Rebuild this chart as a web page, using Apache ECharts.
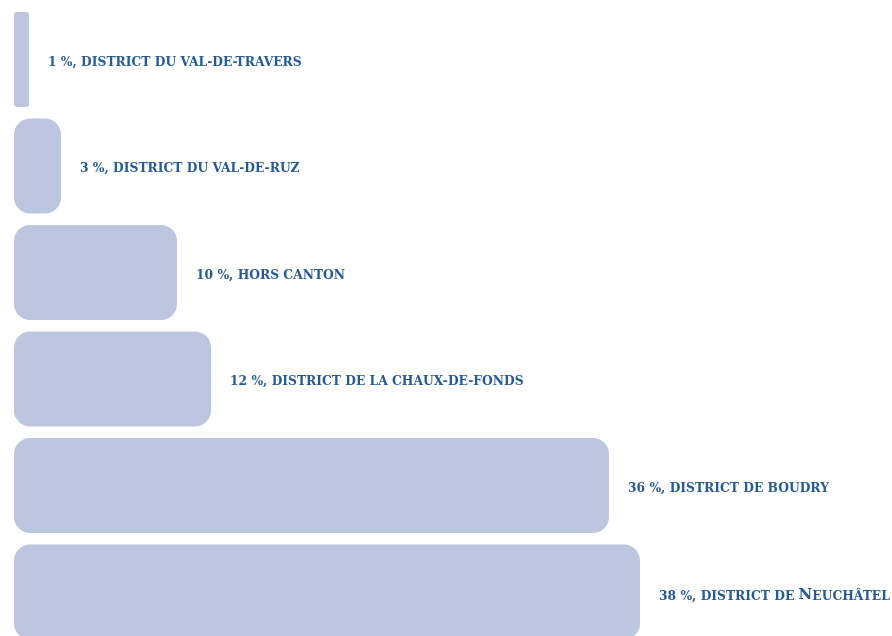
<!DOCTYPE html>
<html>
<head>
<meta charset="utf-8">
<script src="https://cdn.jsdelivr.net/npm/echarts@6/dist/echarts.min.js"></script>
<style>
html,body{margin:0;padding:0;background:#fff;overflow:hidden;}
#c{width:892px;height:660px;}
</style>
</head>
<body>
<div id="c"></div>
<script>
const categories = ['Val-de-Travers', 'Val-de-Ruz', 'Hors canton', 'La Chaux-de-Fonds', 'Boudry', 'Neuchâtel'];
const values = [0.91, 2.85, 9.88, 11.94, 36.06, 37.94];
const labelTexts = [
  '{s|1 %, DISTRICT DU VAL-DE-TRAVERS}',
  '{s|3 %, DISTRICT DU VAL-DE-RUZ}',
  '{s|10 %, HORS CANTON}',
  '{s|12 %, DISTRICT DE LA CHAUX-DE-FONDS}',
  '{s|36 %, DISTRICT DE BOUDRY}',
  '{s|38 %, DISTRICT DE }{c|N}{s|EUCHÂTEL}'
];
const radii = [3, 16, 16, 16, 16, 16];

const chart = echarts.init(document.getElementById('c'));
chart.setOption({
  animation: false,
  grid: { left: 14, top: 6.25, width: 825, height: 639, containLabel: false },
  xAxis: { type: 'value', min: 0, max: 50, show: false },
  yAxis: { type: 'category', data: categories, inverse: true, show: false },
  series: [{
    type: 'bar',
    barCategoryGap: '10.8%',
    data: values.map((v, i) => ({
      value: v,
      itemStyle: { borderRadius: radii[i] },
      label: { formatter: labelTexts[i] }
    })),
    itemStyle: { color: '#bcc6de' },
    label: {
      show: true,
      position: 'right',
      distance: 19,
      offset: [0, 3],
      color: '#285a92',
      rich: {
        s: { fontFamily: 'DejaVu Serif', fontSize: 12.3, color: '#285a92', fontWeight: 'bold', verticalAlign: 'bottom' },
        c: { fontFamily: 'DejaVu Serif', fontSize: 15, color: '#285a92', fontWeight: 'bold', verticalAlign: 'bottom' }
      }
    }
  }]
});
</script>
</body>
</html>
